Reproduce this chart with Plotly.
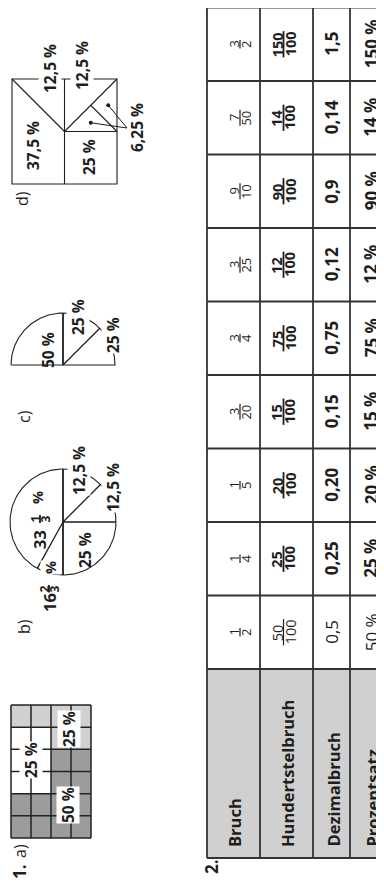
import math
import plotly.graph_objects as go

# Aufgabe 2: Tabelle
zeilen = ["Bruch", "Hundertstelbruch", "Dezimalbruch", "Prozentsatz"]
bruch = [(1, 2), (1, 4), (1, 5), (3, 20), (3, 4), (3, 25), (9, 10), (7, 50), (3, 2)]
hundertstel = [(50, 100), (25, 100), (20, 100), (15, 100), (75, 100),
               (12, 100), (90, 100), (14, 100), (150, 100)]
dezimal = ["0,5", "0,25", "0,20", "0,15", "0,75", "0,12", "0,9", "0,14", "1,5"]
prozent = ["50 %", "25 %", "20 %", "15 %", "75 %", "12 %", "90 %", "14 %", "150 %"]

# Aufgabe 1a: Rechteck 6 x 4 Kästchen (0 = weiss, 1 = hellgrau, 2 = dunkelgrau)
kaestchen = [
    [1, 1, 1, 1],
    [0, 0, 1, 1],
    [0, 0, 2, 2],
    [0, 0, 2, 2],
    [2, 2, 2, 2],
    [2, 2, 2, 2],
]
# Aufgabe 1b: Trennlinien des Kreises, Winkel im Uhrzeigersinn (wie gezeichnet)
speichen_b = [0, 45, 90, 180, 209]
# Aufgabe 1c: Halbkreisanteile in Prozent
halbkreis_c = [50, 25, 25]

FONT = "Open Sans"
INK = "#1e1e1e"
LINE = "#333333"
GRAY = "#d0d0d0"
DARK = "#9c9c9c"

fig = go.Figure()


def txt(x, y, s, size=17, bold=True, xa="center", ya="middle", bg=None):
    fig.add_annotation(
        x=x, y=y, text=s, textangle=-90, showarrow=False,
        xanchor=xa, yanchor=ya, bgcolor=bg, borderpad=0,
        font=dict(family=FONT, size=size, color=INK, weight="bold" if bold else "normal"),
    )


def line(x0, y0, x1, y1, w=1.5, color=LINE):
    fig.add_shape(type="line", x0=x0, y0=y0, x1=x1, y1=y1,
                  line=dict(color=color, width=w), layer="above")


def frac(x, y, num, den, size=13, bold=False):
    # gedreht: Zähler links, Nenner rechts, Bruchstrich senkrecht
    n = max(len(str(num)), len(str(den)))
    half = (n * 0.58 * size + 1) / 2
    line(x, y - half, x, y + half, w=1.8 if bold else 1.2, color=INK)
    txt(x - 0.45 * size, y, str(num), size, bold)
    txt(x + 0.45 * size, y, str(den), size, bold)


# ---------- Tabelle ----------
xr = [207, 260, 313, 350, 392]          # Zeilengrenzen
y_bottom, y_head = 858, 669             # Kopfspalte
cw = 73.5                               # Spaltenbreite

fig.add_shape(type="rect", x0=xr[0], x1=xr[-1], y0=y_head, y1=y_bottom,
              fillcolor=GRAY, line=dict(width=0), layer="below")
y_top = y_head - len(bruch) * cw
for xv in xr[:-1]:
    line(xv, y_top, xv, y_bottom, w=1.8)
for j in range(len(bruch) + 1):
    yv = y_head - j * cw
    line(xr[0], yv, xr[-1], yv, w=1.8)
line(xr[0], y_bottom, xr[-1], y_bottom, w=1.8)

xc = [(xr[i] + xr[i + 1]) / 2 for i in range(4)]
for i, name in enumerate(zeilen):
    txt(xc[i] + 1, y_bottom - 10, name, 16.5, True, ya="bottom")

for j in range(len(bruch)):
    yc = y_head - (j + 0.5) * cw
    first = j == 0
    frac(xc[0] + 6.5, yc, *bruch[j], size=13, bold=False)
    frac(xc[1] - 3, yc, *hundertstel[j], size=14.5, bold=not first)
    txt(xc[2], yc, dezimal[j], 17, not first)
    txt(xc[3], yc, prozent[j], 17, not first)

txt(211, 867, "2.", 17, True)

# ---------- 1a ----------
gx = [11, 31, 51, 71, 91]
gy = [705 + k * (838 - 705) / 6 for k in range(7)]
fig.add_trace(go.Heatmap(
    z=kaestchen,
    x=[(gx[k] + gx[k + 1]) / 2 for k in range(4)],
    y=[(gy[k] + gy[k + 1]) / 2 for k in range(6)],
    colorscale=[[0, "white"], [0.5, GRAY], [1, DARK]],
    zmin=0, zmax=2, showscale=False, hoverinfo="skip",
))
for xv in gx:
    line(xv, gy[0], xv, gy[-1], w=1.5, color="#222")
for yv in gy:
    line(gx[0], yv, gx[-1], yv, w=1.5, color="#222")
txt(31, 760, "25 %", 15.5, True, bg="white")
txt(69, 729, "25 %", 15.5, True, bg="white")
txt(68, 805, "50 %", 15.5, True, bg="white")
txt(19, 872, "1.", 17, True)
txt(20, 851, "a)", 16, False)

# ---------- 1b ----------
cx, cy, r = 63, 522, 53
ts = [2 * math.pi * k / 180 for k in range(181)]
fig.add_trace(go.Scatter(x=[cx + r * math.sin(t) for t in ts],
                         y=[cy - r * math.cos(t) for t in ts],
                         mode="lines", line=dict(color=INK, width=1.1),
                         hoverinfo="skip", showlegend=False))
for a in speichen_b:
    t = math.radians(a)
    w = 1.8 if a % 180 == 0 else 1.3
    line(cx, cy, cx + r * math.sin(t), cy - r * math.cos(t), w=w, color=INK)
txt(85, 550, "25 %", 15.5, True)
txt(79, 471, "12,5 %", 15.5, True, bg="white")
txt(113, 488, "12,5 %", 15.5, True, bg="white")
txt(39, 540, "33", 16.5, True)
frac(40, 519, 1, 3, size=12, bold=True)
txt(37, 498, "%", 14.5, True)
txt(49, 603, "16", 16.5, True, bg="white")
frac(49, 589, 2, 3, size=12, bold=True)
txt(50, 568, "%", 14.5, True, bg="white")
txt(24, 627, "b)", 16, False)

# ---------- 1c ----------
cx, cy, r = 63, 365, 52
ts = [math.pi * (k / 180 - 0.5) for k in range(181)]
fig.add_trace(go.Scatter(x=[cx + r * math.sin(t) for t in ts] + [cx - r],
                         y=[cy - r * math.cos(t) for t in ts] + [cy],
                         mode="lines", line=dict(color=INK, width=1.1),
                         hoverinfo="skip", showlegend=False))
cum = 0
for p in halbkreis_c[:-1]:
    cum += p
    t = math.pi * (cum / 100 - 0.5)
    line(cx, cy, cx + r * math.sin(t), cy - r * math.cos(t),
         w=1.8 if cum == 50 else 1.3, color=INK)
txt(48, 350, "50 %", 15.5, True)
txt(78, 317, "25 %", 15.5, True, bg="white")
txt(113, 335, "25 %", 15.5, True, bg="white")
txt(24, 417, "c)", 16, False)

# ---------- 1d ----------
sx0, sx1, sy0, sy1 = 12, 117, 79, 184
mx, my = (sx0 + sx1) / 2, (sy0 + sy1) / 2
hx, hy = (mx + sx1) / 2, (my + sy0) / 2
fig.add_shape(type="rect", x0=sx0, x1=sx1, y0=sy0, y1=sy1,
              line=dict(color=INK, width=1.1), layer="below")
line(mx, sy0, mx, sy1, w=1.1, color=INK)
line(mx, my, sx1, my, w=1.1, color=INK)
line(sx0, sy0, mx, my, w=1.1, color=INK)
line(mx, my, sx1, sy0, w=1.1, color=INK)
line(hx, hy, sx1, my, w=1.1, color=INK)
dots = [((mx + hx + sx1) / 3, (my + hy + my) / 3), ((hx + sx1 + sx1) / 3, (hy + sy0 + my) / 3)]
for dx, dy in dots:
    line(dx, dy, 127, 128, w=1, color=INK)
fig.add_trace(go.Scatter(x=[d[0] for d in dots], y=[d[1] for d in dots], mode="markers",
                         marker=dict(color=INK, size=4), hoverinfo="skip", showlegend=False))
txt(33, 146, "37,5 %", 15.5, True)
txt(50, 69, "12,5 %", 15.5, True, bg="white")
txt(82, 66, "12,5 %", 15.5, True, bg="white")
txt(89, 157, "25 %", 15.5, True)
txt(137, 128, "6,25 %", 15.5, True)
txt(22, 199, "d)", 16, False)

# Seite hat 8 px Rand -> Achsen so legen, dass Daten = Bildschirmpixel
fig.update_layout(
    width=384, height=886, autosize=False,
    margin=dict(l=0, r=0, t=0, b=0),
    paper_bgcolor="white", plot_bgcolor="white",
    showlegend=False,
    xaxis=dict(range=[8, 392], visible=False, fixedrange=True),
    yaxis=dict(range=[894, 8], visible=False, fixedrange=True),
)
fig.write_html("out.html")
